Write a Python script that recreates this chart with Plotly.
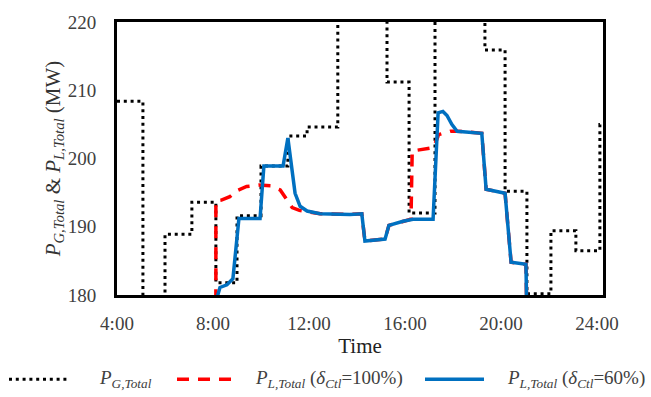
import plotly.graph_objects as go

# ---------------- data (hours, MW) ----------------
pg_t = [4.0, 5.08, 6.0, 7.12, 8.12, 9.0, 10.0, 11.12, 11.92, 13.2, 15.25,
        16.17, 17.25, 19.33, 20.17, 21.08, 22.08, 23.12, 24.12, 24.25]
pg_v = [208.4, 170.0, 188.9, 193.6, 181.8, 191.6, 198.9, 203.3, 204.6, 230.0,
        211.2, 192.0, 230.0, 215.9, 195.2, 180.2, 189.4, 186.5, 205.0, 205.0]

l60_t = [8.16, 8.29, 8.58, 8.83, 9.08, 9.96, 10.12, 10.92, 11.12, 11.29, 11.42,
         11.63, 11.92, 12.46, 13.71, 14.2, 14.33, 15.17, 15.33, 15.92, 16.33,
         17.17, 17.38, 17.58, 17.75, 17.95, 18.17, 19.2, 19.38, 20.17, 20.42,
         21.04, 21.08]
l60_v = [179.5, 181.1, 181.5, 182.4, 191.2, 191.2, 198.9, 198.9, 203.0, 198.7,
         194.9, 193.0, 192.3, 191.9, 191.8, 191.9, 187.9, 188.2, 190.2, 190.8,
         191.1, 191.1, 206.7, 206.9, 206.3, 205.0, 204.0, 203.7, 195.5, 194.9,
         184.8, 184.5, 176.0]

l100_t = [8.12, 8.12, 8.35, 8.7, 9.0, 9.4, 9.9, 10.4, 10.8, 11.05, 11.3, 11.6,
          11.92, 12.46, 13.71, 14.2, 14.33, 15.17, 15.33, 15.92, 16.25, 16.3,
          17.2, 17.4, 17.9, 18.17, 19.2, 19.38, 20.17, 20.42, 21.04, 21.08]
l100_v = [176.0, 193.8, 193.9, 194.4, 195.3, 195.9, 196.1, 196.0, 195.4, 194.2,
          192.8, 192.4, 192.2, 191.9, 191.8, 191.9, 187.9, 188.2, 190.2, 190.8,
          191.1, 201.1, 201.6, 203.5, 204.0, 204.0, 203.7, 195.5, 194.9, 184.8,
          184.5, 176.0]

x_tickvals = [4, 8, 12, 16, 20, 24]
x_ticktext = ["4:00", "8:00", "12:00", "16:00", "20:00", "24:00"]
y_tickvals = [180, 190, 200, 210, 220]

names = ["<i>P</i><sub><i>G,Total</i></sub>",
         "<i>P</i><sub><i>L,Total</i></sub> (<i>δ</i><sub><i>Ctl</i></sub>=100%)",
         "<i>P</i><sub><i>L,Total</i></sub> (<i>δ</i><sub><i>Ctl</i></sub>=60%)"]

# ---------------- styling ----------------
FONT = "Liberation Serif"
TXT = "#404040"
BLACK_DOT = dict(color="black", width=3, dash="3px,3.8px")
RED_DASH = dict(color="#FF0000", width=3.5, dash="12px,9px")
BLUE = dict(color="#0070C0", width=3.5)

W, H = 651, 397
ML, MR, MT, MB = 117, 48, 13, 102
PW, PH = W - ML - MR, H - MT - MB

def px(x):
    return (x - ML) / PW

def py(y):
    return (H - MB - y) / PH

fig = go.Figure()
fig.add_trace(go.Scatter(x=pg_t, y=pg_v, mode="lines", line_shape="hv",
                         line=BLACK_DOT, name=names[0], showlegend=False))
fig.add_trace(go.Scatter(x=l100_t, y=l100_v, mode="lines", line=RED_DASH,
                         name=names[1], showlegend=False))
fig.add_trace(go.Scatter(x=l60_t, y=l60_v, mode="lines", line=BLUE,
                         name=names[2], showlegend=False))

# manual legend (below the plot)
leg_y = py(382)
items = [((9, 68), 97, BLACK_DOT), ((177, 237), 253, RED_DASH), ((425, 484), 505, BLUE)]
for ((x0, x1), tx, ln), nm in zip(items, names):
    fig.add_shape(type="line", xref="paper", yref="paper", x0=px(x0), x1=px(x1),
                  y0=leg_y, y1=leg_y, line=ln)
    fig.add_annotation(xref="paper", yref="paper", x=px(tx), y=leg_y, text=nm,
                       showarrow=False, xanchor="left", yanchor="middle",
                       font=dict(family=FONT, size=19, color=TXT))

fig.update_layout(
    width=W, height=H,
    margin=dict(l=ML, r=MR, t=MT, b=MB),
    paper_bgcolor="white", plot_bgcolor="white",
    font=dict(family=FONT, size=19, color=TXT),
    xaxis=dict(range=[4, 24.25], tickvals=x_tickvals, ticktext=x_ticktext,
               showgrid=False, zeroline=False, showline=True, mirror=True,
               linecolor="black", linewidth=3, ticks="", ticklabelstandoff=9,
               title=dict(text="Time", font=dict(size=21, color="#222222"), standoff=6)),
    yaxis=dict(range=[180, 220], tickvals=y_tickvals,
               showgrid=False, zeroline=False, showline=True, mirror=True,
               linecolor="black", linewidth=3, ticks="", ticklabelstandoff=14,
               title=dict(text="<i>P</i><sub><i>G,Total</i></sub> &amp; <i>P</i><sub><i>L,Total</i></sub> (MW)",
                          font=dict(size=21, color="#333333"), standoff=2)),
)

fig.write_html("out.html")
